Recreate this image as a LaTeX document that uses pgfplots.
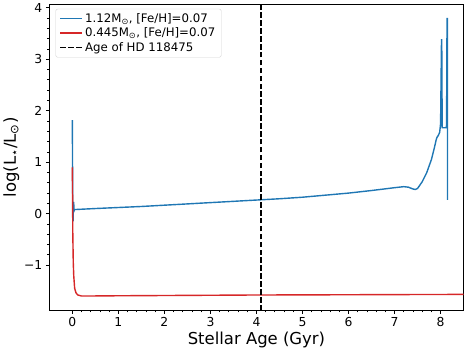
\documentclass[border=0pt]{standalone}
\usepackage{fontspec}
\setmainfont{DejaVu Sans}
\usepackage{pgfplots}
\pgfplotsset{compat=1.18}
\definecolor{mplblue}{HTML}{1F77B4}
\definecolor{mplred}{HTML}{D62728}

\begin{document}
\begin{tikzpicture}
\begin{axis}[
  scale only axis,
  width=414bp, height=306bp,
  xmin=-0.5, xmax=8.5,
  ymin=-1.88, ymax=4.07,
  xtick={0,1,2,3,4,5,6,7,8},
  ytick={-1,0,1,2,3,4},
  yticklabels={−1,0,1,2,3,4},
  minor x tick num=4,
  minor y tick num=4,
  tick pos=left,
  tick align=outside,
  major tick length=3.5bp,
  minor tick length=2bp,
  tick style={black, line width=0.8bp},
  axis line style={line width=0.8bp},
  /pgf/number format/assume math mode=true,
  ticklabel style={font=\fontsize{12.4}{14}\selectfont},
  xlabel={Stellar Age (Gyr)},
  ylabel={log(L\textsubscript{⋆}/L\textsubscript{⊙})},
  label style={font=\fontsize{16.5}{19}\selectfont},
  xlabel style={yshift=2bp},
  ylabel style={yshift=-2bp},
  legend cell align=left,
  legend style={at={(0.015,0.985)}, anchor=north west,
    draw=black!18, rounded corners=2pt,
    font=\fontsize{11.8}{14.5}\selectfont,
    inner xsep=4bp, inner ysep=2.5bp, row sep=0bp},
  legend image code/.code={\draw[#1, line width=1.4bp] (0bp,0bp) -- (22bp,0bp);},
]
\addplot[mplblue, line width=1.4bp] coordinates {
  (0,1.82) (0.003,1.2) (0.006,0.6) (0.01,0.1) (0.015,-0.15) (0.02,0.0)
  (0.03,0.23) (0.035,0.05) (0.05,0.08) (0.5,0.1) (1,0.12) (1.5,0.14)
  (2,0.165) (2.5,0.19) (3,0.215) (3.5,0.24) (4,0.265) (4.5,0.29)
  (5,0.32) (5.5,0.36) (6,0.4) (6.5,0.45) (7,0.505) (7.2,0.525)
  (7.3,0.515) (7.4,0.48) (7.45,0.47) (7.5,0.49) (7.6,0.62) (7.7,0.8)
  (7.8,1.05) (7.87,1.3) (7.9,1.42) (7.92,1.48) (7.95,1.52) (7.98,1.58)
  (8.0,1.75) (8.02,3.38) (8.025,3.38) (8.035,1.67) (8.12,1.67) (8.13,1.72)
  (8.14,3.79) (8.15,3.79) (8.15,0.27)
};
\addlegendentry{1.12M\textsubscript{⊙}, [Fe/H]=0.07}
\addplot[mplred, line width=1.4bp] coordinates {
  (0,0.9) (0.005,0.3) (0.01,-0.4) (0.02,-0.95) (0.03,-1.2) (0.05,-1.45)
  (0.08,-1.54) (0.12,-1.58) (0.2,-1.6) (0.3,-1.6) (1,-1.595) (2,-1.59)
  (3,-1.585) (4,-1.58) (5,-1.578) (6,-1.575) (7,-1.572) (8,-1.57)
  (8.5,-1.568)
};
\addlegendentry{0.445M\textsubscript{⊙}, [Fe/H]=0.07}
\addplot[black, line width=1.4bp, dash pattern=on 5.5bp off 2.4bp] coordinates {
  (4.1,-1.88) (4.1,4.07)
};
\addlegendentry{Age of HD 118475}
\end{axis}
\end{tikzpicture}
\end{document}
